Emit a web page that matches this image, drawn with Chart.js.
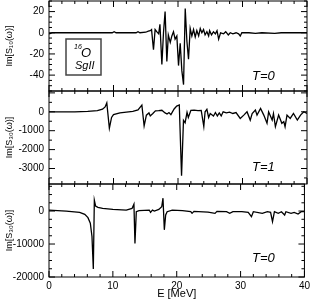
<!DOCTYPE html>
<html>
<head>
<meta charset="utf-8">
<script src="https://cdn.jsdelivr.net/npm/chart.js@4.4.0/dist/chart.umd.min.js"></script>
<style>
body { margin: 0; background: #fff; }
#wrap { position: relative; width: 313px; height: 300px; }
#wrap canvas { position: absolute; left: 0; top: 0; }
</style>
</head>
<body>
<div id="wrap">
<canvas id="p1" width="313" height="300"></canvas>
<canvas id="p2" width="313" height="300"></canvas>
<canvas id="p3" width="313" height="300"></canvas>
</div>
<script>
// tick labels
const xTicks = [0, 10, 20, 30, 40];
const topTicks = [20, 0, -20, -40];
const midTicks = [0, -1000, -2000, -3000];
const botTicks = [0, -10000, -20000];

// top panel: Im[S10], T=0
const energyTop = [0, 0.5, 5, 9.8, 10.1, 10.4, 13.5, 13.8, 14.1, 15, 15.4, 15.7, 15.9, 16.2, 16.45, 16.7,
    17.0, 17.2, 17.5, 17.75, 18.0, 18.27, 18.5, 18.8, 19.05, 19.3, 19.55, 19.82, 20.08, 20.34, 20.6,
    20.86, 21.12, 21.38, 21.63, 21.89, 22.15, 22.41, 22.67, 22.92, 23.2, 23.45, 23.7, 23.96, 24.2,
    24.48, 24.75, 24.9, 25.2, 25.5, 25.8, 26.05, 26.3, 26.6, 27.07, 27.4, 27.8, 28.1, 28.5, 29.0,
    29.4, 29.65, 29.9, 31, 32, 33, 35, 36, 38, 40];
const valuesTop = [-1, 0, 0, 0, 1, 0, 0, 1, 0, 0.5, 1.5, 2, 3, -16, 3, 1,
    -1, 8, -30, 0, 20, -27, -2, -9, -3, 1, -6, -3, -31, -10, -36,
    -49, 23, -8, -25, 4, -3, 3, -4, 2, -3, 4, 0, 3, -2,
    1, -3, 2, -2, 1, -1, 2, -6, 0, -1, 1, -2, 0, -1, 0,
    -1, -3, 0, 0, -0.5, 0, -0.5, 0, 0, 0];

// middle panel: Im[S30], T=1
const energyMid = [0, 4, 6, 7.5, 8.3, 8.7, 8.96, 9.36, 9.7, 10.0, 11, 12, 13, 13.8, 14.4, 14.75, 15.1,
    15.5, 15.7, 16.1, 16.5, 17.0, 17.5, 18.0, 18.3, 18.6, 18.9, 19.4, 19.8, 20.2, 20.55, 20.85,
    21.1, 21.4, 21.6, 22.0, 22.5, 23.1, 23.6, 24.0, 24.2, 24.48, 24.75, 25.0, 25.5, 25.8, 26.1,
    26.4, 26.7, 27.0, 27.5, 28.0, 28.5, 29.0, 29.65, 30.2, 30.7, 31.2, 31.5, 32.0, 32.25, 32.8,
    33.3, 33.8, 34.05, 34.6, 34.8, 35.1, 35.6, 36.1, 36.4, 36.6, 36.9, 37.4, 37.9, 38.5, 39.0,
    39.5, 40.0];
const valuesMid = [0, 0, 20, 60, 140, 260, 470, -870, -300, -150, -60, -20, 20, 100, 350, -750, -180,
    -60, -220, -90, 50, 60, 80, -60, -120, -40, -150, 150, 300, 360, -3380, -450,
    -580, -30, -300, 80, 90, 60, 70, -780, 0, 130, -300, -90, -220, -40, -220,
    -60, -220, 0, -60, -20, -90, -40, -350, -175, 0, -440, -90, 90, -175, 175,
    -175, -610, 0, -440, -90, -790, -175, -610, -520, -790, -175, -350, -90, -440, -175,
    0, -90];

// bottom panel: Im[S30], T=0
const energyBot = [0, 2.7, 4.8, 5.6, 6.1, 6.47, 6.73, 6.94, 7.1, 7.3, 7.66, 8.4, 10.0, 12.1, 13.0, 13.3,
    13.46, 13.67, 14.1, 15.7, 15.9, 16.2, 16.5, 17.2, 17.65, 17.85, 18.06, 18.27, 18.5, 19.3,
    20.9, 22.2, 22.4, 22.7, 24.9, 26.0, 26.3, 27.8, 28.3, 28.8, 30.2, 31.2, 31.7, 32.0, 33.4,
    34.2, 34.7, 35.0, 35.3, 35.9, 36.4, 36.9, 37.1, 37.9, 38.4, 39.0, 39.5, 40.0];
const valuesBot = [300, 0, -400, -1000, -2000, -3700, -7700, -17600, 3300, 1500, 1100, 800, 500, 300, 800, 2100,
    -9800, -200, 100, 300, -400, 300, 0, 500, 1300, 3900, -5700, -1200, -200, 300,
    100, -200, -700, -100, -300, -700, -100, -200, -700, -200, -200, -400, -1700, -200, -700,
    -200, -400, -3200, -200, -700, -200, -1200, -200, -700, -400, -900, -200, -200];

Chart.defaults.font.family = "'Liberation Sans', Arial, sans-serif";
Chart.defaults.color = "#000";

const frameTicks = {
    id: "frameTicks",
    afterDraw(chart, args, opts) {
        const ctx = chart.ctx;
        const area = chart.chartArea;
        const x = chart.scales.x;
        const y = chart.scales.y;
        ctx.save();
        ctx.strokeStyle = "#000";
        ctx.lineWidth = 1;
        ctx.strokeRect(area.left, area.top, area.right - area.left, area.bottom - area.top);
        ctx.beginPath();
        for (let v = x.min; v <= x.max + 1e-6; v += 2) {
            const px = x.getPixelForValue(v);
            const len = v % 10 === 0 ? 6 : 3;
            ctx.moveTo(px, area.bottom);
            ctx.lineTo(px, area.bottom - len);
            ctx.moveTo(px, area.top);
            ctx.lineTo(px, area.top + len);
        }
        const start = Math.ceil(y.min / opts.minor) * opts.minor;
        for (let v = start; v <= y.max; v += opts.minor) {
            const py = y.getPixelForValue(v);
            const len = v % opts.major === 0 ? 6 : 3;
            ctx.moveTo(area.left, py);
            ctx.lineTo(area.left + len, py);
            ctx.moveTo(area.right, py);
            ctx.lineTo(area.right - len, py);
        }
        ctx.stroke();

        ctx.fillStyle = "#000";
        ctx.font = "italic 13px 'Liberation Sans', Arial, sans-serif";
        ctx.fillText(opts.label, area.left + 203, area.bottom - opts.labelY);

        if (opts.box) {
            ctx.strokeStyle = "#444";
            ctx.lineWidth = 1.5;
            ctx.strokeRect(66, 39, 35, 36);
            ctx.font = "italic 7px 'Liberation Sans', Arial, sans-serif";
            ctx.fillText("16", 74, 49);
            ctx.font = "italic 13px 'Liberation Sans', Arial, sans-serif";
            ctx.fillText("O", 81, 57);
            ctx.font = "italic 11px 'Liberation Sans', Arial, sans-serif";
            ctx.fillText("SgII", 75, 69);
        }
        ctx.restore();
    }
};

function makePanel(id, energies, values, yMin, yMax, yTicks, yTitle, padding, showX, deco) {
    const points = energies.map((e, i) => ({ x: e, y: values[i] }));
    return new Chart(document.getElementById(id), {
        type: "line",
        data: {
            datasets: [{
                data: points,
                borderColor: "#000",
                borderWidth: 1.3,
                pointRadius: 0,
                tension: 0,
                fill: false
            }]
        },
        options: {
            responsive: false,
            animation: false,
            layout: { padding: padding },
            plugins: {
                legend: { display: false },
                tooltip: { enabled: false },
                frameTicks: deco
            },
            scales: {
                x: {
                    type: "linear",
                    min: 0,
                    max: 40,
                    display: showX,
                    grid: { display: false, drawTicks: false },
                    border: { display: false },
                    afterBuildTicks: axis => { axis.ticks = xTicks.map(v => ({ value: v })); },
                    afterFit: axis => { axis.height = showX ? 23 : 0; },
                    ticks: { padding: 3, font: { size: 10 }, callback: v => String(v) },
                    title: { display: true, text: "E [MeV]", font: { size: 11 }, padding: { top: 0, bottom: -1 } }
                },
                y: {
                    min: yMin,
                    max: yMax,
                    grid: { display: false, drawTicks: false },
                    border: { display: false },
                    afterBuildTicks: axis => { axis.ticks = yTicks.map(v => ({ value: v })); },
                    afterFit: axis => {
                        axis.width = 49;
                        axis.paddingTop = 0;
                        axis.paddingBottom = 0;
                    },
                    ticks: { padding: 5, font: { size: 10 }, callback: v => String(v) },
                    title: { display: true, text: yTitle, font: { size: 9 }, padding: { top: 4, bottom: 0 } }
                }
            }
        },
        plugins: [frameTicks]
    });
}

makePanel("p1", energyTop, valuesTop, -55, 30, topTicks, "Im[S\u2081\u2080(\u03c9)]",
    { left: 0, right: 6, top: 1, bottom: 209 }, false,
    { minor: 5, major: 20, label: "T=0", labelY: 11, box: true });
makePanel("p2", energyMid, valuesMid, -3820, 1100, midTicks, "Im[S\u2083\u2080(\u03c9)]",
    { left: 0, right: 6, top: 91, bottom: 116 }, false,
    { minor: 500, major: 1000, label: "T=1", labelY: 13, box: false });
makePanel("p3", energyBot, valuesBot, -20000, 8200, botTicks, "Im[S\u2083\u2080(\u03c9)]",
    { left: 0, right: 6, top: 184, bottom: 0 }, true,
    { minor: 2500, major: 10000, label: "T=0", labelY: 15, box: false });
</script>
</body>
</html>
